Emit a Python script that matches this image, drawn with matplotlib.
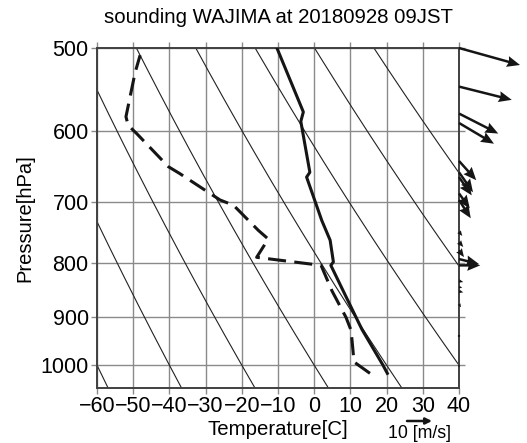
import numpy as np
import matplotlib
matplotlib.use("Agg")
import matplotlib.pyplot as plt
from matplotlib.ticker import NullLocator, FixedLocator

plt.rcParams['font.family'] = ['Liberation Sans', 'DejaVu Sans']
plt.rcParams['lines.scale_dashes'] = False

# ---- data ----
temp_p = [1018, 1000, 925, 850, 804, 798, 761, 729, 663, 656, 587, 575, 500]
temp_t = [20.2, 19.0, 13.2, 8.0, 4.6, 5.3, 4.4, 2.1, -2.1, -1.2, -3.7, -3.0, -10.3]

dew_p = [1018, 993, 927, 901, 850, 804, 790, 759, 745, 705, 697, 687, 658, 648, 603, 592, 581, 528, 508]
dew_t = [15.4, 11.0, 10.2, 8.8, 4.9, 1.9, -15.9, -12.7, -15.4, -22.3, -26.0, -28.8, -37.1, -40.3, -49.0, -51.4, -52.0, -49.5, -48.1]

wind_p = [500, 544, 577, 589, 640, 656, 663, 687, 697, 747, 764, 778, 793, 804, 832, 843, 851, 875, 938, 1000]
wind_u = [24.4, 21.1, 15.7, 14.0, 6.9, 5.6, 5.1, 4.3, 4.7, 1.3, 1.7, 2.0, 8.0, 8.5, 1.7, 1.3, 1.7, 0.8, 0.0, 0.0]
wind_v = [-6.8, -5.3, -8.0, -8.3, -7.7, -8.0, -7.3, -6.0, -7.3, -1.7, -2.0, -2.7, -2.0, 0.0, -0.4, -0.3, -0.4, -1.3, -0.9, -1.0]

theta_levels = [213.15, 233.15, 253.15, 273.15, 293.15, 313.15, 333.15, 353.15]
p_ticks = [500, 600, 700, 800, 900, 1000]
t_ticks = [-60, -50, -40, -30, -20, -10, 0, 10, 20, 30, 40]

title = "sounding WAJIMA at 20180928 09JST"

# ---- figure ----
fig = plt.figure(figsize=(5.27, 4.43), dpi=100)
W, H = 527, 443
ax = fig.add_axes([97 / W, 1 - 387.5 / H, (459 - 97) / W, (387.5 - 48) / H])
ax.set_yscale('log')
ax.set_xlim(-60, 40)
ax.set_ylim(1050, 500)

gridc = '#8a8a8a'
ax.yaxis.set_major_locator(FixedLocator(p_ticks))
ax.yaxis.set_minor_locator(NullLocator())
ax.set_yticklabels([str(p) for p in p_ticks])
ax.set_xticks(t_ticks)
ax.set_xticklabels([str(t).replace('-', '\u2212') for t in t_ticks])
ax.grid(True, color=gridc, lw=1.0)
ax.tick_params(axis='both', which='major', direction='out', length=4, width=1.0,
               color=gridc, labelsize=15.5, top=True, right=True, pad=2)
for s in ax.spines.values():
    s.set_color('#404040')
    s.set_linewidth(1.4)

# dry adiabats
pp = np.linspace(1050, 500, 200)
for th in theta_levels:
    tt = th * (pp / 1000.0) ** 0.286 - 273.15
    ax.plot(tt, pp, color='#222222', lw=0.8, zorder=2)

ax.plot(temp_t, temp_p, color='#151515', lw=2.2, zorder=4, solid_joinstyle='round')
ax.plot(dew_t, dew_p, color='#151515', lw=2.2, zorder=4, dashes=(13, 6),
        dash_capstyle='butt')

q = ax.quiver([40] * len(wind_p), wind_p, wind_u, wind_v, angles='uv',
              scale_units='dots', scale=0.4, units='dots', width=2.5,
              headwidth=4.4, headlength=5.2, headaxislength=4.7,
              color='#151515', zorder=6, clip_on=False)

ax.set_title(title, fontsize=14.7, pad=18)
ax.set_xlabel('Temperature[C]', fontsize=14.7, labelpad=2)
ax.set_ylabel('Pressure[hPa]', fontsize=14.5, labelpad=4)

# key arrow
ax.annotate('', xy=(432 / W, 1 - 421 / H), xytext=(407 / W, 1 - 421 / H),
            xycoords='figure fraction', textcoords='figure fraction',
            arrowprops=dict(arrowstyle='-|>', color='#151515', lw=1.8,
                            mutation_scale=9, shrinkA=0, shrinkB=0))
fig.text(420 / W, 1 - 434 / H, '10 [m/s]', fontsize=12.8, ha='center', va='center')

fig.savefig('out.png', dpi=100)
